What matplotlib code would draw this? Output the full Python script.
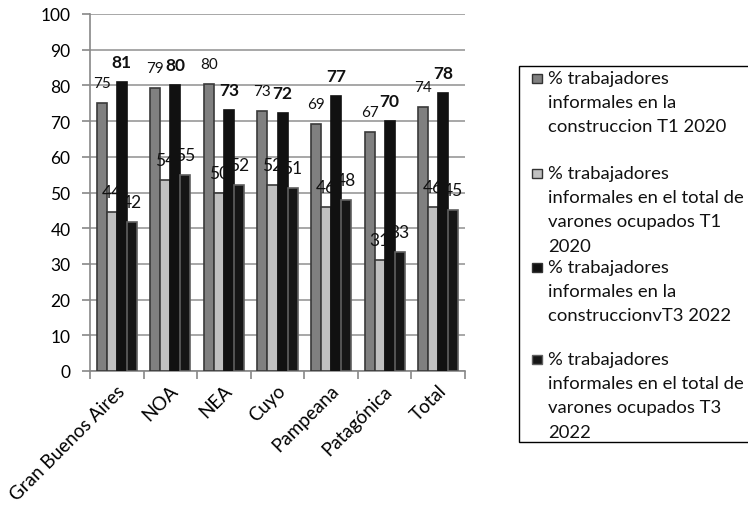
import matplotlib
matplotlib.use("Agg")
import matplotlib.pyplot as plt
import matplotlib.transforms as mtransforms
from matplotlib.patches import Rectangle
import numpy as np

categories = ["Gran Buenos Aires", "NOA", "NEA", "Cuyo", "Pampeana", "Patagónica", "Total"]
s1 = [75, 79.2, 80.4, 72.8, 69.2, 67, 74]
s2 = [44.5, 53.5, 50, 52, 46, 31, 46]
s3 = [81, 80, 73, 72.4, 77, 70, 78]
s4 = [41.6, 54.8, 52, 51.2, 47.8, 33.4, 45]
l1 = ["75", "79", "80", "73", "69", "67", "74"]
l2 = ["44", "54", "50", "52", "46", "31", "46"]
l3 = ["81", "80", "73", "72", "77", "70", "78"]
l4 = ["42", "55", "52", "51", "48", "33", "45"]
labels = ["% trabajadores\ninformales en la\nconstruccion T1 2020",
          "% trabajadores\ninformales en el total de\nvarones ocupados T1\n2020",
          "% trabajadores\ninformales en la\nconstruccionvT3 2022",
          "% trabajadores\ninformales en el total de\nvarones ocupados T3\n2022"]

plt.rcParams['font.family'] = ['Lato', 'DejaVu Sans']

W, H = 748, 506
fig = plt.figure(figsize=(W/100, H/100), dpi=100)
ax = fig.add_axes([90/W, 1-372/H, 375/W, 357/H])

x = np.arange(len(categories))
w = 0.187
offs = [-1.5*w, -0.5*w, 0.5*w, 1.5*w]
face = ["#808080", "#c0c0c0", "#111111", "#161616"]
edge = ["#3a3a3a", "#3a3a3a", "#111111", "#606060"]
series = [s1, s2, s3, s4]
texts = [l1, l2, l3, l4]
fsz = [11, 12.5, 12.5, 12.5]
fw = ["normal", "normal", "bold", "normal"]
for s, t, o, fc, ec, f, wt in zip(series, texts, offs, face, edge, fsz, fw):
    ax.bar(x + o, s, w, color=fc, edgecolor=ec, linewidth=1.2, zorder=3)
    for i in range(len(categories)):
        ax.text(x[i] + o, s[i] + 5.6, t[i], ha="center", va="center",
                fontsize=f, fontweight=wt, color="#111111", zorder=4)

ax.set_xlim(-0.5, len(categories) - 0.5)
ax.set_ylim(0, 100)
ax.set_yticks(np.arange(0, 101, 10))
ax.yaxis.grid(True, color="#a0a0a0", linewidth=1.3, zorder=0)
ax.set_axisbelow(True)
ax.tick_params(axis="y", labelsize=12.5, length=6, width=1.2, color="#888888", direction="out", pad=8)
ax.set_xticks(np.arange(-0.5, len(categories), 1), minor=False)
ax.set_xticklabels([])
ax.set_xticks(x, minor=True)
ax.set_xticklabels(categories, minor=True, rotation=45, ha="right", va="center",
                   rotation_mode="anchor", fontsize=13.5)
ax.tick_params(axis="x", which="major", length=6, width=1.2, color="#888888", direction="out")
ax.tick_params(axis="x", which="minor", length=0, pad=12)
shift = mtransforms.ScaledTranslation(5/100, 0, fig.dpi_scale_trans)
for lab in ax.get_xticklabels(minor=True):
    lab.set_transform(lab.get_transform() + shift)
for sp in ["top", "right"]:
    ax.spines[sp].set_visible(False)
for sp in ["left", "bottom"]:
    ax.spines[sp].set_color("#888888")
    ax.spines[sp].set_linewidth(1.2)

# legend (drawn in figure pixel coordinates)
def fx(px):
    return px / W

def fy(py):
    return 1 - py / H

fig.add_artist(Rectangle((fx(519), fy(443)), fx(260), (443 - 67) / H,
                         transform=fig.transFigure, facecolor="white",
                         edgecolor="black", linewidth=1.0))
first_baselines = [84, 179, 273, 365]
step = 24.2
for lab, fc, ec, b0 in zip(labels, face, edge, first_baselines):
    fig.add_artist(Rectangle((fx(532), fy(b0)), fx(9.5), 9.5 / H,
                             transform=fig.transFigure, facecolor=fc,
                             edgecolor="#333333" if fc != "#161616" else "#606060",
                             linewidth=1.0))
    for k, line in enumerate(lab.split("\n")):
        fig.text(fx(548), fy(b0 + k * step), line, ha="left", va="baseline",
                 fontsize=13.3, color="#111111")

fig.savefig("out.png", dpi=100)
